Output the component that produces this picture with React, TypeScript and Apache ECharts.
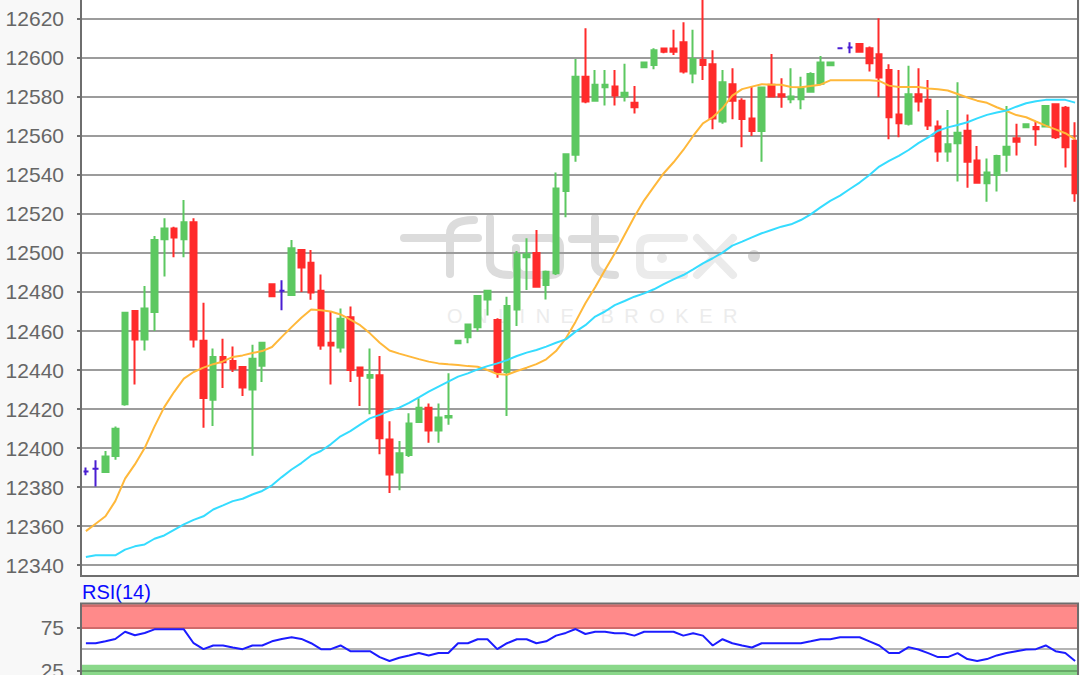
import { useEffect, useRef } from 'react'
import * as echarts from 'echarts'

// open, close, low, high
const candles = [
  [12388, 12388, 12386, 12390], [12389.4, 12389.4, 12380.3, 12393.7], [12387.7, 12395.7, 12387.7, 12398.5],
  [12395.9, 12409.9, 12394, 12411.1], [12422.4, 12469.4, 12421.7, 12469.4], [12470.3, 12455.6, 12432.6, 12470.3],
  [12455.6, 12471.5, 12450, 12483.1], [12469.7, 12506.7, 12460, 12508.7], [12507, 12512.6, 12488, 12517.8],
  [12512.6, 12508, 12497.8, 12513.5], [12507, 12515.7, 12497.8, 12527.2], [12515.7, 12455.6, 12451.5, 12517.8],
  [12455, 12425.6, 12410.4, 12474.5], [12424.8, 12446.7, 12411.3, 12451], [12446.7, 12444, 12430.8, 12456],
  [12444.6, 12440.7, 12439, 12452], [12441.5, 12431, 12426.7, 12441.5], [12430, 12445.8, 12396, 12453],
  [12442.2, 12454, 12433.8, 12454], [12484, 12477.8, 12477.8, 12484], [12480.7, 12480.7, 12470.6, 12486],
  [12478.5, 12502.4, 12478.5, 12506.7], [12501.5, 12492.6, 12480, 12501.5], [12495, 12479.7, 12476, 12501.5],
  [12480.7, 12452.6, 12450.4, 12489], [12454, 12452.6, 12432.6, 12470], [12451.5, 12466.3, 12449, 12471.5],
  [12467, 12440, 12433.8, 12472.6], [12441.3, 12437, 12421.5, 12441.3], [12436, 12437.5, 12417.3, 12451],
  [12437.3, 12405, 12396.8, 12447.2], [12404.4, 12386.5, 12377, 12413.8], [12387.4, 12397.3, 12378.3, 12403.6],
  [12396.4, 12412.6, 12395.4, 12417.8], [12413.3, 12420.7, 12413.3, 12425.5], [12420.7, 12409, 12402.7, 12422.9],
  [12409, 12415.6, 12402.7, 12422.9], [12415.6, 12416.4, 12412, 12438.3], [12453.7, 12455, 12453.7, 12455],
  [12456.8, 12463.4, 12453.7, 12463.4], [12461.9, 12478, 12459.7, 12478], [12476.2, 12480.7, 12467.9, 12480.7],
  [12465.6, 12439, 12436, 12466.5], [12439, 12472.8, 12416.4, 12477.6], [12471, 12499.3, 12462.6, 12501],
  [12497.8, 12499.3, 12481, 12507.5], [12500, 12482.7, 12482.4, 12511.8], [12483.6, 12490.4, 12476.2, 12491],
  [12489.6, 12533, 12488.7, 12541.2], [12531.8, 12550.6, 12518.3, 12550.6], [12550.3, 12590.4, 12546.8, 12599.5],
  [12590.4, 12577.6, 12576.8, 12615.2], [12578, 12586.2, 12578, 12593.8], [12585, 12586.2, 12575.6, 12593.8],
  [12585.3, 12580.7, 12575.6, 12593.8], [12580.2, 12582.2, 12577.6, 12597], [12577, 12574.7, 12571.5, 12585.6],
  [12595.2, 12597.6, 12595.2, 12597.6], [12596.4, 12604, 12594.2, 12605], [12604.8, 12603.2, 12602.4, 12605],
  [12604.8, 12603.2, 12601.5, 12614.4], [12608, 12593, 12592, 12618.3], [12592, 12599.5, 12587, 12614.4],
  [12599, 12596.4, 12588.7, 12640], [12596.8, 12569, 12563.4, 12604], [12567.4, 12587.5, 12566.2, 12593.8],
  [12586.5, 12578, 12568.5, 12594.7], [12578, 12568.7, 12554.2, 12579.3], [12569, 12562.6, 12560, 12585.6],
  [12562.6, 12584.8, 12546.8, 12585.3], [12586.2, 12580.2, 12580.2, 12602], [12581.4, 12580.2, 12574.5, 12589.6],
  [12578.8, 12580.2, 12576.8, 12594.7], [12578.8, 12584.4, 12573.7, 12590.4], [12582.7, 12591.8, 12582.7, 12592.6],
  [12586.7, 12597.6, 12586.2, 12601], [12596.2, 12597.6, 12596.2, 12597.6], [12605, 12605, 12605, 12605],
  [12605.3, 12605.3, 12602.4, 12608], [12607.2, 12603.2, 12603.2, 12607.2], [12605, 12597.3, 12593, 12605.8],
  [12601.9, 12590, 12579.8, 12620.3], [12593.8, 12569.6, 12558.3, 12596.8], [12571, 12566.5, 12559.3, 12593.8],
  [12566.2, 12581.4, 12565.3, 12596], [12581.4, 12577.6, 12572.5, 12594.7], [12578.5, 12565.3, 12563, 12588.7],
  [12564.8, 12552, 12546.8, 12567.9], [12552, 12555.7, 12546.8, 12573.3], [12556.2, 12561.7, 12536.6, 12587.5],
  [12562.7, 12546.8, 12533.5, 12571], [12547.4, 12536, 12535.7, 12554.9], [12535.7, 12541.2, 12526.3, 12548.5],
  [12540, 12549.7, 12531.5, 12550.3], [12550.3, 12554.5, 12541.7, 12575.4], [12558.8, 12557, 12550, 12566.2],
  [12564.5, 12566, 12564.5, 12566], [12564.6, 12563.4, 12555, 12567.4], [12564.8, 12575.4, 12564.8, 12575.4],
  [12576.2, 12559.3, 12558.5, 12576.2], [12574.5, 12554.2, 12543.8, 12575.4], [12557.6, 12530.6, 12526.3, 12567],
]

const fastAverage = [
  12357.4, 12361.2, 12365, 12372.8, 12384.3, 12391.6, 12400, 12411, 12421, 12428.7, 12435.6, 12439, 12441.2, 12443,
  12444.4, 12446.7, 12447.5, 12448.7, 12449.7, 12451.8, 12457, 12462, 12466.8, 12471, 12470.6, 12470, 12468.5,
  12465.8, 12463, 12458.8, 12454, 12450, 12448.4, 12447, 12445.6, 12444.3, 12443.4, 12442.9, 12442.6, 12442,
  12441.7, 12440, 12437.9, 12437.6, 12439.5, 12441.2, 12443, 12445.5, 12449.7, 12456.2, 12464.8, 12474.2, 12482.4,
  12491.3, 12499.8, 12509.2, 12518.6, 12527, 12534, 12540.9, 12546.5, 12552.8, 12560, 12566.5, 12569.6, 12574.2,
  12580.7, 12584, 12585.3, 12586.5, 12586.3, 12586.3, 12585.1, 12585, 12585.6, 12586.3, 12588.5, 12588.5, 12588.5,
  12588.5, 12588.5, 12588.2, 12585.8, 12585.1, 12585.1, 12585.1, 12584.3, 12584, 12583.3, 12581.5, 12579.7, 12578.1,
  12577, 12574.7, 12572.8, 12570.7, 12569.6, 12567.4, 12565.3, 12563.4, 12561.4, 12558.4,
]

const slowAverage = [
  12344.1, 12345, 12345, 12345, 12347.9, 12349.6, 12350.6, 12353.5, 12355.2, 12358.1, 12360.9, 12363.2, 12365,
  12368.5, 12370.6, 12372.8, 12374, 12376.2, 12378, 12380.9, 12385.1, 12389, 12392.3, 12396.2, 12398.5, 12401.9,
  12406, 12408.7, 12412, 12415.2, 12417, 12419.1, 12420.7, 12423.2, 12426, 12428.9, 12431.5, 12434, 12436.6, 12438.3,
  12440.3, 12442, 12443.4, 12445.1, 12447.2, 12448.9, 12450.3, 12452, 12454, 12455.7, 12459.7, 12463, 12467.4, 12470,
  12473.3, 12475.4, 12477.6, 12479.3, 12481.4, 12484, 12486.5, 12488.7, 12491.6, 12494.7, 12497.3, 12500.2, 12503.8,
  12505.8, 12508, 12510.1, 12511.8, 12513.5, 12514.7, 12516.9, 12519.8, 12523.4, 12526.7, 12529.4, 12532.8, 12536.1,
  12540, 12544.3, 12547.2, 12549.8, 12552.8, 12556.3, 12559.3, 12562.7, 12564.4, 12565.6, 12567, 12569, 12570.8,
  12572, 12573, 12575, 12576.8, 12577.8, 12578.5, 12578.5, 12578.5, 12577.1,
]

const rsi = [
  56.8, 56.8, 59, 61.7, 70, 65.9, 68.6, 72.7, 72.7, 72.7, 72.7, 56.8, 50, 54.2, 54.2, 51.9, 50, 54.2, 54.2, 59, 61.7,
  63.6, 61.7, 56.8, 50, 50, 54.2, 47.7, 47.7, 47.7, 40.9, 36.4, 40.2, 42.8, 45.5, 42.8, 45.5, 45.5, 56.8, 56.8, 61.4,
  61.4, 50, 56.8, 61.4, 61.4, 56.8, 59, 65.5, 68.6, 73.1, 67.4, 70, 70, 68.2, 68.2, 65.5, 70, 70, 70, 70, 65.5, 68.2,
  65.5, 54.2, 61.4, 56.8, 54.2, 51.9, 56.8, 56.8, 56.8, 56.8, 56.8, 59, 61.4, 61.4, 63.6, 63.6, 63.6, 59, 54.2, 45.5,
  45.5, 52.3, 49.6, 45.5, 40.9, 40.9, 45.5, 38.6, 36.4, 38.6, 42.8, 45.5, 47.7, 49.6, 50, 54.2, 47.7, 45.5, 36.4,
]

const categories = candles.map((_, i) => String(i))
const priceTicks = [12340, 12360, 12380, 12400, 12420, 12440, 12460, 12480, 12500, 12520, 12540, 12560, 12580, 12600, 12620]
const rsiTicks = [25, 75]

const UP = '#5cc861'
const DOWN = '#ff2b2b'
const DOJI = '#4a1ed2'
const FRAME = '#6e6e6e'
const PAGE = '#f8f8f8'

// watermark logo, page pixels
const LOGO_DARK = 'M404 238H478M450 274V234Q450 220 474 220M490 218V262Q490 275 510 275M516 238H550Q560 238 560 248V265Q560 275 550 275H526Q516 275 516 265V248M595 218V262Q595 275 615 275M572 239H615'
const LOGO_LIGHT = 'M684 238H650Q640 238 640 248V265Q640 275 650 275H684M697 238L733 275M733 238L697 275'
echarts.graphic.registerShape('logoDark', echarts.graphic.extendPath(LOGO_DARK, {}))
echarts.graphic.registerShape('logoLight', echarts.graphic.extendPath(LOGO_LIGHT, {}))

const plainLabel = (v: number) => String(v)

const option: any = {
  animation: false,
  backgroundColor: PAGE,
  grid: [
    { left: 81, top: 0, width: 999, height: 576, outerBoundsMode: 'none' },
    { left: 81, top: 603.5, width: 999, height: 89.2, outerBoundsMode: 'none' },
  ],
  xAxis: [
    { type: 'category', gridIndex: 0, data: categories, show: false },
    { type: 'category', gridIndex: 1, data: categories, show: false },
  ],
  yAxis: [
    {
      type: 'value',
      gridIndex: 0,
      min: 12334.4,
      max: 12629.7,
      axisLine: { show: false },
      axisTick: { show: true, length: 4, customValues: priceTicks, lineStyle: { color: FRAME, width: 2 } },
      axisLabel: { customValues: priceTicks, formatter: plainLabel, color: '#666', fontFamily: 'Liberation Sans', fontSize: 21, margin: 17 },
      splitLine: { show: true, lineStyle: { color: '#9c9c9c', width: 2 } },
    },
    {
      type: 'value',
      gridIndex: 1,
      min: 0,
      max: 102.4,
      axisLine: { show: false },
      axisTick: { show: true, length: 4, customValues: rsiTicks, lineStyle: { color: FRAME, width: 2 } },
      axisLabel: { customValues: rsiTicks, formatter: plainLabel, color: '#666', fontFamily: 'Liberation Sans', fontSize: 21, margin: 17 },
      splitLine: { show: false },
    },
  ],
  series: [
    {
      type: 'candlestick',
      xAxisIndex: 0,
      yAxisIndex: 0,
      data: candles,
      barWidth: 6,
      itemStyle: {
        color: UP,
        color0: DOWN,
        borderColor: UP,
        borderColor0: DOWN,
        borderColorDoji: DOJI,
        borderWidth: 2,
      },
    },
    {
      type: 'line',
      xAxisIndex: 0,
      yAxisIndex: 0,
      data: fastAverage,
      symbol: 'none',
      lineStyle: { color: '#ffb83a', width: 2 },
      z: 5,
    },
    {
      type: 'line',
      xAxisIndex: 0,
      yAxisIndex: 0,
      data: slowAverage,
      symbol: 'none',
      lineStyle: { color: '#35dcff', width: 2 },
      z: 5,
    },
    {
      type: 'line',
      xAxisIndex: 1,
      yAxisIndex: 1,
      data: rsi,
      symbol: 'none',
      lineStyle: { color: '#1c1cff', width: 2 },
      z: 5,
      markArea: {
        silent: true,
        data: [
          [{ yAxis: 73.5, itemStyle: { color: '#ff8a8a' } }, { yAxis: 102.4 }],
          [{ yAxis: 32, itemStyle: { color: '#8ad88a' } }, { yAxis: 0 }],
        ],
      },
      markLine: {
        silent: true,
        symbol: 'none',
        label: { show: false },
        data: [
          { yAxis: 100, lineStyle: { color: '#d06a6a', width: 2, type: 'solid' } },
          { yAxis: 75, lineStyle: { color: '#d06a6a', width: 2, type: 'solid' } },
          { yAxis: 50, lineStyle: { color: '#b4b4b4', width: 2, type: 'solid' } },
          { yAxis: 25, lineStyle: { color: '#68a868', width: 2, type: 'solid' } },
        ],
      },
    },
  ],
  graphic: [
    { type: 'rect', silent: true, z: -5, shape: { x: 81, y: 0, width: 997, height: 576 }, style: { fill: '#fff' } },
    { type: 'rect', silent: true, z: -5, shape: { x: 81, y: 603.5, width: 997, height: 72 }, style: { fill: '#fff' } },
    { type: 'logoDark', silent: true, z: -4, x: 0, y: 0, style: { fill: 'none', stroke: '#dcdcdc', lineWidth: 8, lineCap: 'round', lineJoin: 'round' } },
    { type: 'logoLight', silent: true, z: -4, x: 0, y: 0, style: { fill: 'none', stroke: '#ebebeb', lineWidth: 8, lineCap: 'round', lineJoin: 'round' } },
    { type: 'circle', silent: true, z: -4, shape: { cx: 662, cy: 258, r: 5 }, style: { fill: '#ebebeb' } },
    { type: 'circle', silent: true, z: -4, shape: { cx: 754, cy: 256, r: 6 }, style: { fill: '#d8d8d8' } },
    {
      type: 'text',
      silent: true,
      z: -4,
      x: 447,
      y: 316,
      style: { text: 'ONLINE BROKER', fill: '#ececec', font: '20px "Liberation Sans"', textAlign: 'left', textVerticalAlign: 'middle' },
    },
    { type: 'text', silent: true, z: 20, x: 82, y: 592, style: { text: 'RSI(14)', fill: '#0a0aff', font: '20px "Liberation Sans"', textVerticalAlign: 'middle' } },
    // frames, and the strip right of them
    { type: 'rect', silent: true, z: 20, shape: { x: 1079, y: 0, width: 1, height: 675 }, style: { fill: PAGE } },
    { type: 'rect', silent: true, z: 21, shape: { x: 81, y: -4, width: 997, height: 580 }, style: { fill: 'none', stroke: FRAME, lineWidth: 2 } },
    { type: 'rect', silent: true, z: 21, shape: { x: 81, y: 603.5, width: 997, height: 100 }, style: { fill: 'none', stroke: FRAME, lineWidth: 2 } },
  ],
}

export default function App() {
  const chartRef = useRef<HTMLDivElement>(null)

  useEffect(() => {
    if (!chartRef.current) return
    const chart = echarts.init(chartRef.current, undefined, { renderer: 'svg' })
    chart.setOption(option)
    // zrender has no letter spacing of its own
    chartRef.current.querySelectorAll('text').forEach((t) => {
      if (t.textContent === 'ONLINE BROKER') t.setAttribute('letter-spacing', '10.5')
    })
    return () => chart.dispose()
  }, [])

  return <div ref={chartRef} style={{ position: 'fixed', left: 0, top: 0, width: 1080, height: 675 }} />
}
